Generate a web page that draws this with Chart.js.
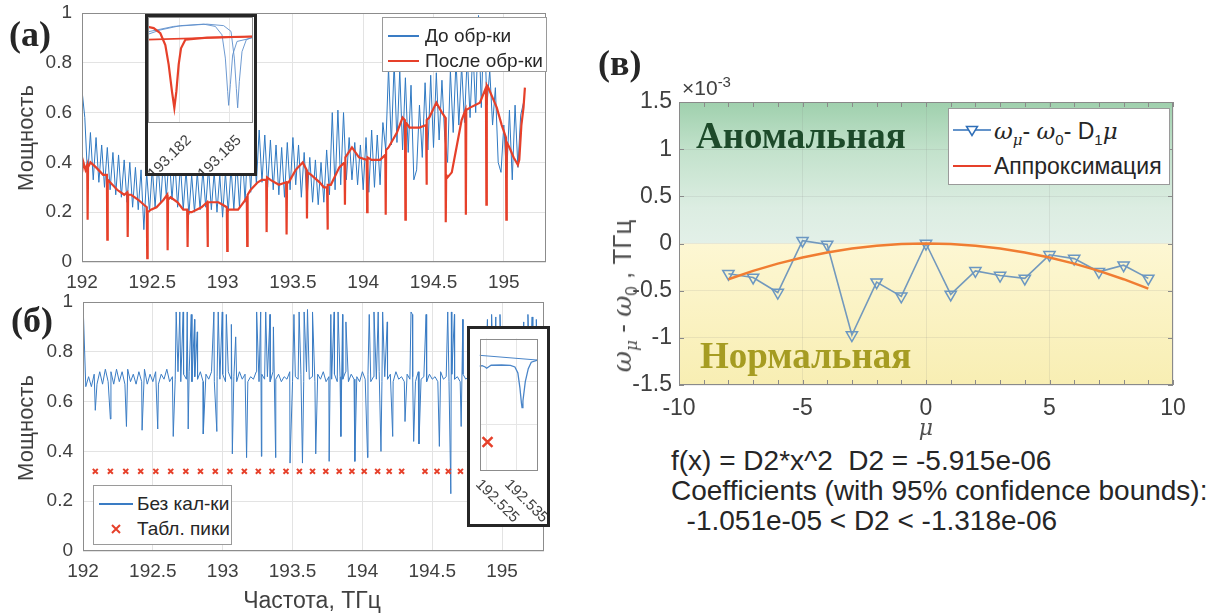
<!DOCTYPE html>
<html lang="ru">
<head>
<meta charset="utf-8">
<title>Спектр резонатора и дисперсия</title>
<script src="https://cdn.jsdelivr.net/npm/chart.js@4.4.1/dist/chart.umd.min.js"></script>
<style>
  body { margin: 0; background: #fff; }
  #page { position: relative; width: 1215px; height: 613px; overflow: hidden;
          font-family: "Liberation Sans", Arial, sans-serif; color: #404040; }
  canvas { position: absolute; }
  .txt { position: absolute; white-space: nowrap; line-height: 1; }
  .ylab { position: absolute; white-space: nowrap; line-height: 1;
          transform: translate(-50%, -50%) rotate(-90deg); }
  .panel { position: absolute; font-family: "Liberation Serif", "Times New Roman", serif;
           font-weight: bold; font-size: 36px; color: #262626; line-height: 1; }
  .inset { position: absolute; box-sizing: border-box; border: 3px solid #262626; background: #fff; overflow: hidden; }
  .inset canvas { left: 0; top: 0; }
  .slant { position: absolute; font-size: 15px; line-height: 1; white-space: nowrap; color: #404040; }
  .legend { position: absolute; box-sizing: border-box; background: #fff; border: 1px solid #9a9a9a; }
  .legend .row { position: absolute; left: 0; height: 26px; display: flex; align-items: center;
                 white-space: nowrap; color: #262626; }
  .legend .sw { display: inline-flex; align-items: center; justify-content: center; }
  .gr { font-family: "DejaVu Serif", "Liberation Serif", serif; font-style: italic; }
  sub, sup { line-height: 0; }
</style>
</head>
<body>
<div id="page">
  <canvas id="panelA" width="560" height="300" style="left:0;top:0"></canvas>
  <canvas id="panelB" width="560" height="323" style="left:0;top:290px"></canvas>
  <canvas id="panelC" width="615" height="370" style="left:600px;top:60px"></canvas>

  <div class="inset" id="boxA" style="left:145px;top:14px;width:112px;height:162px">
    <canvas id="insetA" width="106" height="156"></canvas>
  </div>
  <div class="inset" id="boxB" style="left:467px;top:326px;width:83px;height:201px">
    <canvas id="insetB" width="77" height="195"></canvas>
  </div>

  <!-- panel letters -->
  <div class="panel" style="left:9px;top:16px">(а)</div>
  <div class="panel" style="left:11px;top:302px">(б)</div>
  <div class="panel" style="left:598px;top:45px">(в)</div>

  <!-- axis titles, panels а and б -->
  <div class="ylab" style="left:26px;top:138px;font-size:22px">Мощность</div>
  <div class="ylab" style="left:26px;top:428px;font-size:22px">Мощность</div>
  <div class="txt" style="left:312px;top:589px;font-size:23px;transform:translateX(-50%)">Частота, ТГц</div>

  <!-- legend, panel а -->
  <div class="legend" style="left:382px;top:17px;width:165px;height:55px;font-size:19px">
    <div class="row" style="top:5px"><span class="sw" style="width:31px;margin-left:5px;margin-right:6px"><span style="display:block;width:31px;height:1.5px;background:#3a7cc4"></span></span>До обр-ки</div>
    <div class="row" style="top:30px"><span class="sw" style="width:31px;margin-left:5px;margin-right:6px"><span style="display:block;width:31px;height:2.5px;background:#e6402a"></span></span>После обр-ки</div>
  </div>

  <!-- legend, panel б -->
  <div class="legend" style="left:93px;top:485px;width:139px;height:60px;font-size:19px">
    <div class="row" style="top:5px"><span class="sw" style="width:34px;margin-left:5px;margin-right:4px"><span style="display:block;width:34px;height:1.5px;background:#3a7cc4"></span></span>Без кал-ки</div>
    <div class="row" style="top:30px"><span class="sw" style="width:34px;margin-left:5px;margin-right:4px">
      <svg width="10" height="10" viewBox="0 0 10 10"><path d="M1 1L9 9M9 1L1 9" stroke="#e6402a" stroke-width="2"/></svg></span>Табл. пики</div>
  </div>

  <!-- panel в texts -->
  <div class="txt" style="left:682px;top:77px;font-size:21px">×10<sup style="font-size:15px">-3</sup></div>
  <div class="txt" style="left:696px;top:117px;font-family:'Liberation Serif',serif;font-weight:bold;font-size:37px;color:#1d4a2a">Аномальная</div>
  <div class="txt" style="left:700px;top:337px;font-family:'Liberation Serif',serif;font-weight:bold;font-size:37px;color:#a69c22">Нормальная</div>
  <div class="ylab" style="left:622px;top:296px;font-size:26px;color:#505050"><span class="gr">ω</span><sub class="gr" style="font-size:17px">μ</sub> - <span class="gr">ω</span><sub style="font-size:17px">0</sub> , ТГц</div>
  <div class="txt gr" style="left:926px;top:417px;font-size:22px;color:#505050;transform:translateX(-50%)">μ</div>

  <div class="legend" style="left:948px;top:108px;width:222px;height:77px;font-size:23px">
    <div class="row" style="top:9px"><span class="sw" style="width:38px;margin-left:4px;margin-right:3px">
      <svg width="38" height="14" viewBox="0 0 38 14"><path d="M0 6H38" stroke="#2f6fb8" stroke-width="1.5"/><path d="M13.5 2.5H24.5L19 11.5Z" fill="#fff" stroke="#2f6fb8" stroke-width="1.5"/></svg></span><span><span class="gr">ω</span><sub class="gr" style="font-size:15px">μ</sub>- <span class="gr">ω</span><sub style="font-size:15px">0</sub>- D<sub style="font-size:15px">1</sub><span class="gr">μ</span></span></div>
    <div class="row" style="top:44px"><span class="sw" style="width:38px;margin-left:4px;margin-right:3px"><span style="display:block;width:38px;height:2px;background:#e6402a"></span></span>Аппроксимация</div>
  </div>

  <div class="txt" style="left:671px;top:446px;font-size:28px;line-height:30px;color:#262626;white-space:pre">f(x) = D2*x^2  D2 = -5.915e-06
Coefficients (with 95% confidence bounds):
  -1.051e-05 &lt; D2 &lt; -1.318e-06</div>
</div>

<script>
// ---------- panel (а): spectrum before and after processing ----------
const freqTicks = [192, 192.5, 193, 193.5, 194, 194.5, 195];
const powerTicks = [0, 0.2, 0.4, 0.6, 0.8, 1];

// raw sweep, sampled every 0.02 THz from 192.00
const beforeStart = 192.0;
const beforeStep = 0.02;
const beforePower = [
  0.69, 0.58, 0.34, 0.52, 0.33,  0.50, 0.32, 0.47, 0.30, 0.46,
  0.29, 0.44, 0.27, 0.43, 0.26,  0.41, 0.24, 0.40, 0.22, 0.38,
  0.21, 0.37, 0.13, 0.36, 0.20,  0.38, 0.22, 0.40, 0.24, 0.42,
  0.26, 0.43, 0.25, 0.41, 0.22,  0.39, 0.21, 0.37, 0.19, 0.35,
  0.20, 0.36, 0.21, 0.37, 0.22,  0.38, 0.21, 0.36, 0.20, 0.35,
  0.18, 0.36, 0.20, 0.38, 0.21,  0.41, 0.22, 0.44, 0.24, 0.49,
  0.28, 0.55, 0.31, 0.53, 0.32,  0.51, 0.30, 0.49, 0.29, 0.47,
  0.27, 0.46, 0.26, 0.48, 0.29,  0.50, 0.31, 0.47, 0.26, 0.44,
  0.25, 0.42, 0.24, 0.41, 0.23,  0.40, 0.24, 0.45, 0.27, 0.60,
  0.29, 0.61, 0.31, 0.60, 0.33,  0.50, 0.33, 0.48, 0.31, 0.47,
  0.29, 0.50, 0.28, 0.53, 0.30,  0.51, 0.31, 0.56, 0.45, 0.78,
  0.47, 0.80, 0.48, 0.77, 0.45,  0.74, 0.44, 0.71, 0.33, 0.37,
  0.63, 0.42, 0.72, 0.45, 0.75,  0.46, 0.76, 0.49, 0.73, 0.50,
  0.40, 0.77, 0.52, 0.81, 0.55,  0.79, 0.56, 0.83, 0.58, 0.86,
  0.60, 0.99, 0.62, 0.98, 0.63,  0.77, 0.55, 0.70, 0.40, 0.36,
  0.55, 0.34, 0.61, 0.33, 0.63,  0.38, 0.59, 0.64
];

// processed trace: [frequency, power]
const afterTrace = [
  [192.000, 0.36], [192.010, 0.40], [192.025, 0.37], [192.037, 0.39], [192.040, 0.17], [192.043, 0.38],
  [192.060, 0.40], [192.100, 0.38], [192.150, 0.35], [192.177, 0.35], [192.180, 0.09], [192.183, 0.33],
  [192.200, 0.32], [192.250, 0.29], [192.300, 0.27], [192.322, 0.28], [192.325, 0.10], [192.328, 0.27],
  [192.350, 0.27], [192.400, 0.25], [192.440, 0.23], [192.461, 0.22], [192.464, 0.015], [192.467, 0.20],
  [192.490, 0.21], [192.530, 0.22], [192.580, 0.25], [192.606, 0.27], [192.609, 0.047], [192.612, 0.25],
  [192.630, 0.26], [192.680, 0.24], [192.720, 0.21], [192.748, 0.21], [192.751, 0.06], [192.754, 0.20],
  [192.780, 0.20], [192.850, 0.22], [192.890, 0.24], [192.893, 0.06], [192.896, 0.24], [192.920, 0.24],
  [192.970, 0.24], [193.000, 0.23], [193.030, 0.22], [193.033, 0.045], [193.036, 0.21], [193.060, 0.21],
  [193.110, 0.21], [193.150, 0.24], [193.172, 0.26], [193.175, 0.065], [193.178, 0.27], [193.200, 0.29],
  [193.250, 0.32], [193.280, 0.33], [193.310, 0.33], [193.313, 0.12], [193.316, 0.34], [193.340, 0.33],
  [193.400, 0.31], [193.452, 0.32], [193.455, 0.11], [193.458, 0.32], [193.470, 0.32], [193.520, 0.37],
  [193.570, 0.40], [193.597, 0.37], [193.600, 0.175], [193.603, 0.36], [193.630, 0.35], [193.690, 0.32],
  [193.720, 0.30], [193.743, 0.30], [193.746, 0.13], [193.749, 0.31], [193.770, 0.31], [193.830, 0.38],
  [193.867, 0.40], [193.870, 0.23], [193.873, 0.42], [193.920, 0.46], [193.970, 0.42], [194.025, 0.41],
  [194.028, 0.20], [194.031, 0.42], [194.060, 0.41], [194.120, 0.41], [194.157, 0.43], [194.160, 0.19],
  [194.163, 0.45], [194.180, 0.46], [194.240, 0.52], [194.280, 0.58], [194.297, 0.57], [194.300, 0.17],
  [194.303, 0.56], [194.330, 0.54], [194.400, 0.54], [194.447, 0.55], [194.450, 0.31], [194.453, 0.57],
  [194.470, 0.58], [194.520, 0.64], [194.560, 0.60], [194.584, 0.58], [194.587, 0.16], [194.590, 0.35],
  [194.600, 0.34], [194.630, 0.36], [194.660, 0.45], [194.700, 0.57], [194.727, 0.61], [194.730, 0.19],
  [194.733, 0.61], [194.760, 0.62], [194.830, 0.64], [194.873, 0.70], [194.876, 0.23], [194.879, 0.71],
  [194.890, 0.70], [194.950, 0.62], [194.985, 0.55], [195.015, 0.50], [195.018, 0.17], [195.021, 0.48],
  [195.040, 0.46], [195.070, 0.42], [195.100, 0.39], [195.110, 0.41], [195.125, 0.55], [195.140, 0.62],
  [195.150, 0.70]
];

// zoom on one resonance near 193.18 THz (relative power)
const zoomATicks = [193.182, 193.185];
const zoomAfterDip = [
  [193.18000, 0.893], [193.18044, 0.877], [193.18084, 0.83], [193.18114, 0.72], [193.18134, 0.54],
  [193.18154, 0.29], [193.18168, 0.14], [193.18180, 0.29], [193.18194, 0.54], [193.18208, 0.69],
  [193.18234, 0.77], [193.18364, 0.79], [193.18644, 0.80]
];
const zoomAfterFlat = [[193.18000, 0.77], [193.18644, 0.80]];
const zoomBefore1 = [
  [193.18000, 0.815], [193.18084, 0.86], [193.18204, 0.90], [193.18344, 0.914], [193.18414, 0.893],
  [193.18454, 0.815], [193.18474, 0.60], [193.18488, 0.29], [193.18494, 0.163], [193.18504, 0.354],
  [193.18518, 0.63], [193.18544, 0.754], [193.18644, 0.79]
];
const zoomBefore2 = [
  [193.18000, 0.84], [193.18164, 0.893], [193.18364, 0.914], [193.18464, 0.90], [193.18508, 0.847],
  [193.18528, 0.60], [193.18540, 0.32], [193.18548, 0.14], [193.18558, 0.385], [193.18574, 0.66],
  [193.18600, 0.77], [193.18644, 0.80]
];

// ---------- panel (б): uncalibrated sweep and tabulated peaks ----------
const rawStart = 192.0;
const rawStep = 0.02;
const rawBase = [
  1.00, 0.66, 0.70, 0.66, 0.71,  0.67, 0.72, 0.67, 0.73, 0.68,
  0.72, 0.67, 0.73, 0.68, 0.72,  0.67, 0.73, 0.68, 0.71, 0.67,
  0.72, 0.68, 0.73, 0.67, 0.71,  0.68, 0.72, 0.67, 0.71, 0.69,
  0.73, 0.68, 0.70, 0.69, 0.72,  0.68, 0.71, 0.69, 0.72, 0.68,
  0.70, 0.69, 0.72, 0.68, 0.71,  0.69, 0.72, 0.68, 0.70, 0.69,
  0.71, 0.68, 0.72, 0.69, 0.70,  0.68, 0.72, 0.69, 0.71, 0.68,
  0.70, 0.69, 0.72, 0.68, 0.71,  0.69, 0.70, 0.68, 0.72, 0.69,
  0.71, 0.68, 0.70, 0.69, 0.72,  0.68, 0.70, 0.69, 0.71, 0.68,
  0.72, 0.69, 0.70, 0.68, 0.71,  0.69, 0.72, 0.68, 0.70, 0.69,
  0.71, 0.68, 0.70, 0.69, 0.72,  0.68, 0.71, 0.69, 0.70, 0.68,
  0.72, 0.69, 0.71, 0.68, 0.70,  0.69, 0.72, 0.68, 0.70, 0.69,
  0.71, 0.68, 0.72, 0.69, 0.70,  0.68, 0.71, 0.69, 0.70, 0.68,
  0.72, 0.69, 0.70, 0.68, 0.71,  0.69, 0.70, 0.68, 0.72, 0.69,
  0.70, 0.68, 0.71, 0.69, 0.70,  0.68, 0.71, 0.69, 0.70, 0.68,
  0.70, 0.69, 0.71, 0.68, 0.70,  0.69, 0.70, 0.68, 0.71, 0.69,
  0.70, 0.68, 0.71, 0.69, 0.70,  0.68, 0.71, 0.69, 0.70, 0.68,
  0.70, 0.69, 0.71, 0.68, 0.70,  0.69
];
const rawSpikes = [
  [192.667, 0.96], [192.693, 0.96], [192.717, 0.96], [192.746, 0.96], [192.775, 0.95], [192.799, 0.93], [192.818, 0.88],
  [192.937, 0.96], [192.968, 0.96], [192.997, 0.96], [193.026, 0.95], [193.062, 0.91], [193.093, 0.86],
  [193.243, 0.96], [193.272, 0.96], [193.308, 0.96], [193.339, 0.95], [193.363, 0.90],
  [193.510, 0.95], [193.547, 0.96], [193.583, 0.96], [193.607, 0.97], [193.643, 0.96],
  [193.774, 0.95], [193.798, 0.96], [193.826, 0.96], [193.858, 0.95], [193.882, 0.92],
  [194.049, 0.95], [194.083, 0.96], [194.113, 0.96], [194.145, 0.96], [194.178, 0.92],
  [194.348, 0.96], [194.358, 0.95], [194.456, 0.95],
  [194.611, 0.96], [194.637, 0.96], [194.659, 0.95], [194.719, 0.93],
  [194.895, 0.93], [194.925, 0.95], [194.955, 0.94], [194.985, 0.95],
  [195.155, 0.92], [195.185, 0.95], [195.215, 0.94], [195.245, 0.93]
];
const rawDips = [
  [192.088, 0.565], [192.196, 0.53], [192.311, 0.50], [192.423, 0.485], [192.535, 0.49], [192.646, 0.46],
  [192.753, 0.49], [192.861, 0.47], [192.958, 0.48], [193.069, 0.39], [193.171, 0.375], [193.277, 0.38],
  [193.379, 0.375], [193.482, 0.353], [193.571, 0.353], [193.666, 0.39], [193.762, 0.36], [193.846, 0.46],
  [193.946, 0.36], [194.037, 0.375], [194.133, 0.40], [194.217, 0.46], [194.305, 0.52], [194.367, 0.44],
  [194.405, 0.43], [194.551, 0.42], [194.633, 0.23], [194.707, 0.50]
];
const tablePeaks = [
  192.088, 192.196, 192.306, 192.413, 192.521, 192.628, 192.736, 192.841, 192.947,
  193.052, 193.155, 193.255, 193.353, 193.453, 193.549, 193.643, 193.738, 193.834,
  193.925, 194.013, 194.109, 194.192, 194.281, 194.448, 194.534, 194.615, 194.702
];
const tablePeakLevel = 0.32;

// zoom on the resonance near 192.53 THz
const zoomBTicks = [192.525, 192.535];
const zoomBLevels = [0.4, 0.6];
const zoomRawTop = [[192.5226, 0.722], [192.5421, 0.700]];
const zoomRawDip = [
  [192.5226, 0.672], [192.5235, 0.674], [192.5245, 0.668], [192.5250, 0.662], [192.5256, 0.668],
  [192.5265, 0.676], [192.5300, 0.677], [192.5330, 0.675], [192.5345, 0.668], [192.5355, 0.64],
  [192.5362, 0.57], [192.5367, 0.50], [192.5369, 0.48], [192.5372, 0.51], [192.5380, 0.60],
  [192.5390, 0.66], [192.5400, 0.69], [192.5421, 0.700]
];
const zoomPeak = [192.5253, 0.32];

// ---------- panel (в): integrated dispersion ----------
const mu = [-8, -7, -6, -5, -4, -3, -2, -1, 0, 1, 2, 3, 4, 5, 6, 7, 8, 9];
const residual = [-0.32, -0.36, -0.52, 0.03, -0.01, -0.97, -0.41, -0.56, 0, -0.54, -0.29, -0.34, -0.37, -0.12, -0.16, -0.30, -0.23, -0.37];
const fitValues = [-0.379, -0.290, -0.213, -0.148, -0.095, -0.053, -0.024, -0.006, 0, -0.006, -0.024, -0.053, -0.095, -0.148, -0.213, -0.290, -0.379, -0.479];
const muTicks = [-10, -5, 0, 5, 10];
const dispTicks = [-1.5, -1, -0.5, 0, 0.5, 1, 1.5];

// ---------- helpers ----------
const textGray = '#404040';
const sans = "'Liberation Sans', Arial, sans-serif";

function pairs(list) { return list.map(([x, y]) => ({ x, y })); }
function sampled(start, step, values) {
  return values.map((y, i) => ({ x: +(start + i * step).toFixed(4), y }));
}
function merged(...lists) { return [].concat(...lists).sort((a, b) => a.x - b.x); }

// white background + box around the plotting area
const framePlugin = {
  id: 'frame',
  beforeDraw(chart, args, opts) {
    if (!opts.fill) return;
    const { ctx, width, height } = chart;
    ctx.save();
    ctx.fillStyle = opts.fill;
    ctx.fillRect(0, 0, width, height);
    ctx.restore();
  },
  afterDraw(chart, args, opts) {
    if (!opts.color) return;
    const { ctx, chartArea: a } = chart;
    ctx.save();
    ctx.strokeStyle = opts.color;
    ctx.lineWidth = 1;
    ctx.strokeRect(Math.round(a.left) + 0.5, Math.round(a.top) + 0.5,
      Math.round(a.right - a.left) - 1, Math.round(a.bottom - a.top) - 1);
    ctx.restore();
  }
};

// green (anomalous) and yellow (normal) dispersion zones
const zonesPlugin = {
  id: 'zones',
  beforeDraw(chart, args, opts) {
    if (!opts.on) return;
    const { ctx, chartArea: a, scales: { y } } = chart;
    const y0 = y.getPixelForValue(0);
    ctx.save();
    let g = ctx.createLinearGradient(0, a.top, 0, y0);
    g.addColorStop(0, '#9fd0ad');
    g.addColorStop(0.35, '#c3e2cc');
    g.addColorStop(0.75, '#dcede2');
    g.addColorStop(1, '#e3f0e8');
    ctx.fillStyle = g;
    ctx.fillRect(a.left, a.top, a.right - a.left, y0 - a.top);
    g = ctx.createLinearGradient(0, y0, 0, a.bottom);
    g.addColorStop(0, '#fdf7d3');
    g.addColorStop(1, '#f8eeb3');
    ctx.fillStyle = g;
    ctx.fillRect(a.left, y0, a.right - a.left, a.bottom - y0);
    ctx.restore();
  }
};

// inward tick marks on all four sides
const innerTicksPlugin = {
  id: 'innerTicks',
  afterDraw(chart, args, opts) {
    if (!opts.xStep) return;
    const { ctx, chartArea: a, scales: { x, y } } = chart;
    ctx.save();
    ctx.strokeStyle = opts.color;
    ctx.lineWidth = 1;
    ctx.beginPath();
    for (let v = x.min; v <= x.max + 1e-9; v += opts.xStep) {
      const px = Math.round(x.getPixelForValue(v)) + 0.5;
      ctx.moveTo(px, a.bottom); ctx.lineTo(px, a.bottom - opts.len);
      ctx.moveTo(px, a.top); ctx.lineTo(px, a.top + opts.len);
    }
    for (let v = y.min; v <= y.max + 1e-9; v += opts.yStep) {
      const py = Math.round(y.getPixelForValue(v)) + 0.5;
      ctx.moveTo(a.left, py); ctx.lineTo(a.left + opts.len, py);
      ctx.moveTo(a.right, py); ctx.lineTo(a.right - opts.len, py);
    }
    ctx.stroke();
    ctx.restore();
  }
};

Chart.register(framePlugin, zonesPlugin, innerTicksPlugin);
Chart.defaults.font.family = sans;
Chart.defaults.color = textGray;
Chart.defaults.animation = false;
Chart.defaults.responsive = false;
Chart.defaults.plugins.legend.display = false;
Chart.defaults.plugins.tooltip.enabled = false;

function axes(o) {
  return {
    x: {
      type: 'linear', min: o.xMin, max: o.xMax,
      afterBuildTicks: s => { s.ticks = o.xTicks.map(value => ({ value })); },
      afterFit: s => { s.height = o.xHeight; s.paddingLeft = 0; s.paddingRight = 0; },
      ticks: {
        display: o.xLabels !== false, font: { size: o.fontSize }, color: textGray,
        padding: o.xPad || 0, autoSkip: false, maxRotation: 0, callback: v => String(v)
      },
      grid: { color: o.grid, drawTicks: false },
      border: { display: false }
    },
    y: {
      type: 'linear', min: o.yMin, max: o.yMax,
      afterBuildTicks: s => { s.ticks = o.yTicks.map(value => ({ value })); },
      afterFit: s => { s.width = o.yWidth; s.paddingTop = 0; s.paddingBottom = 0; },
      ticks: {
        display: o.yLabels !== false, font: { size: o.fontSize }, color: textGray,
        padding: o.yPad || 0, callback: v => String(v)
      },
      grid: { color: o.grid, drawTicks: false },
      border: { display: false }
    }
  };
}

function trace(data, color, width) {
  return { data, borderColor: color, borderWidth: width, pointRadius: 0, tension: 0, fill: false };
}

// slanted tick labels of the zoom plots, placed from the chart's own x scale
function slantLabels(chart, holder, values, degrees, dx, dy) {
  const x = chart.scales.x;
  const bottom = chart.chartArea.bottom;
  values.forEach(v => {
    const el = document.createElement('div');
    el.className = 'slant';
    el.textContent = String(v);
    el.style.left = (x.getPixelForValue(v) + dx) + 'px';
    el.style.top = (bottom + dy) + 'px';
    if (degrees < 0) {
      el.style.transformOrigin = 'right center';
      el.style.transform = `translate(-100%, -50%) rotate(${degrees}deg)`;
    } else {
      el.style.transformOrigin = 'left center';
      el.style.transform = `translate(0, -50%) rotate(${degrees}deg)`;
    }
    holder.appendChild(el);
  });
}

// ---------- panel (а) ----------
new Chart(document.getElementById('panelA'), {
  type: 'line',
  data: {
    datasets: [
      trace(pairs(afterTrace), '#e6402a', 2.2),
      trace(sampled(beforeStart, beforeStep, beforePower), '#2f79c2', 1)
    ]
  },
  options: {
    layout: { padding: { left: 0, top: 13, right: 14, bottom: 0 } },
    scales: axes({
      xMin: 192, xMax: 195.3, xTicks: freqTicks, yMin: 0, yMax: 1, yTicks: powerTicks,
      xHeight: 38, yWidth: 82, fontSize: 19, xPad: 9, yPad: 10, grid: '#e3e3e3'
    }),
    plugins: { frame: { color: '#8c8c8c' } }
  }
});

const zoomA = new Chart(document.getElementById('insetA'), {
  type: 'line',
  data: {
    datasets: [
      trace(pairs(zoomAfterDip), '#e6402a', 2.2),
      trace(pairs(zoomAfterFlat), '#e6402a', 1.6),
      trace(pairs(zoomBefore1), '#5d8fcc', 0.9),
      trace(pairs(zoomBefore2), '#5d8fcc', 0.9)
    ]
  },
  options: {
    layout: { padding: { left: 0, top: 0, right: 1, bottom: 0 } },
    scales: axes({
      xMin: 193.1801, xMax: 193.1864, xTicks: zoomATicks, yMin: 0, yMax: 0.98, yTicks: [0.1],
      xHeight: 50, yWidth: 0, xLabels: false, yLabels: false, fontSize: 15, grid: '#e6e6e6'
    }),
    plugins: { frame: { fill: '#fff', color: '#8c8c8c' } }
  }
});
slantLabels(zoomA, document.getElementById('boxA'), zoomATicks, -45, 8, 14);

// ---------- panel (б) ----------
new Chart(document.getElementById('panelB'), {
  type: 'line',
  data: {
    datasets: [
      {
        data: tablePeaks.map(x => ({ x, y: tablePeakLevel })), showLine: false,
        pointStyle: 'crossRot', pointRadius: 3.5, pointBorderWidth: 2, pointBorderColor: '#e6402a'
      },
      trace(merged(sampled(rawStart, rawStep, rawBase), pairs(rawSpikes), pairs(rawDips)), '#3a7cc4', 1)
    ]
  },
  options: {
    layout: { padding: { left: 0, top: 12, right: 16, bottom: 0 } },
    scales: axes({
      xMin: 192, xMax: 195.3, xTicks: freqTicks, yMin: 0, yMax: 1, yTicks: powerTicks,
      xHeight: 62, yWidth: 83, fontSize: 19, xPad: 9, yPad: 10, grid: '#e3e3e3'
    }),
    plugins: { frame: { color: '#8c8c8c' } }
  }
});

const zoomB = new Chart(document.getElementById('insetB'), {
  type: 'line',
  data: {
    datasets: [
      {
        data: [{ x: zoomPeak[0], y: zoomPeak[1] }], showLine: false,
        pointStyle: 'crossRot', pointRadius: 7, pointBorderWidth: 2.5, pointBorderColor: '#e6402a'
      },
      trace(pairs(zoomRawTop), '#4a85c8', 1),
      trace(pairs(zoomRawDip), '#4a85c8', 1.3)
    ]
  },
  options: {
    layout: { padding: { left: 0, top: 0, right: 9, bottom: 0 } },
    scales: axes({
      xMin: 192.5226, xMax: 192.5421, xTicks: zoomBTicks, yMin: 0.19, yMax: 0.80, yTicks: zoomBLevels,
      xHeight: 54, yWidth: 3, xLabels: false, yLabels: false, fontSize: 15, grid: '#e6e6e6'
    }),
    plugins: { frame: { fill: '#fff', color: '#8c8c8c' } }
  }
});
slantLabels(zoomB, document.getElementById('boxB'), zoomBTicks, 45, -8, 11);

// ---------- panel (в) ----------
new Chart(document.getElementById('panelC'), {
  type: 'line',
  data: {
    datasets: [
      trace(mu.map((m, i) => ({ x: m, y: fitValues[i] })), '#f07d32', 2.4),
      {
        data: mu.map((m, i) => ({ x: m, y: residual[i] })),
        borderColor: '#7399bd', borderWidth: 1.6, tension: 0, fill: false,
        pointStyle: 'triangle', rotation: 180, pointRadius: 6.5,
        pointBorderColor: '#6b97c2', pointBackgroundColor: 'rgba(0,0,0,0)', pointBorderWidth: 1.5
      }
    ]
  },
  options: {
    layout: { padding: { left: 0, top: 42, right: 42, bottom: 0 } },
    scales: axes({
      xMin: -10, xMax: 10, xTicks: muTicks, yMin: -1.5, yMax: 1.5, yTicks: dispTicks,
      xHeight: 45, yWidth: 79, fontSize: 23, xPad: 10, yPad: 7, grid: 'rgba(120,120,120,0.13)'
    }),
    plugins: {
      zones: { on: true },
      frame: { color: '#8a8a8a' },
      innerTicks: { xStep: 1, yStep: 0.5, len: 5, color: '#8a8a8a' }
    }
  }
});
</script>
</body>
</html>
